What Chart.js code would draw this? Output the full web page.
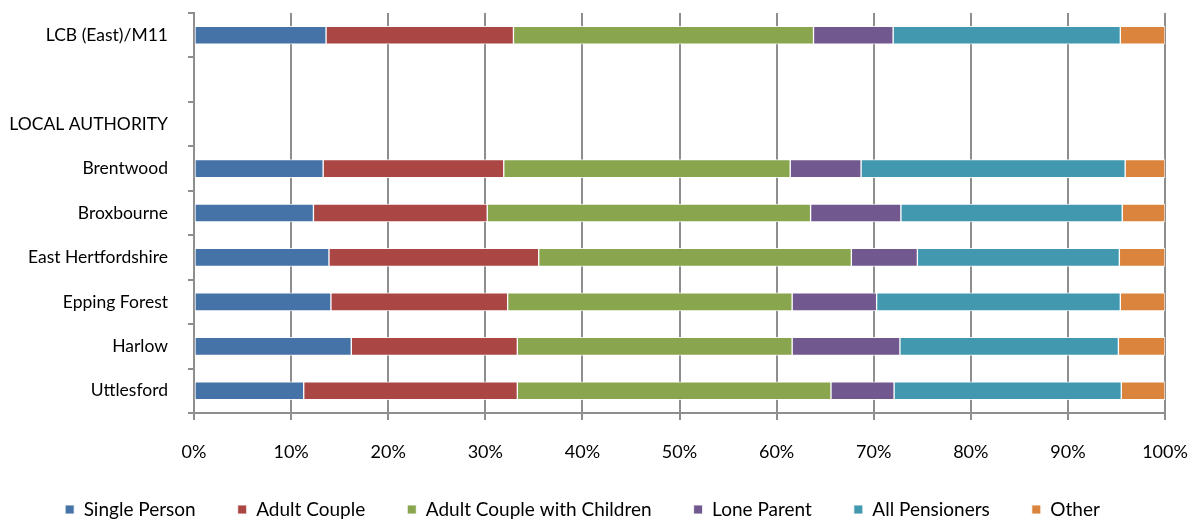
<!DOCTYPE html>
<html lang="en">
<head>
    <meta charset="UTF-8">
    <title>Household Composition</title>
    <style>
        body {
            margin: 0;
            background: #fff;
        }
        #wrap {
            width: 1197px;
            height: 520px;
        }
    </style>
</head>
<body>
    <div id="wrap">
        <canvas id="hhChart"></canvas>
    </div>

    <script src="https://cdn.jsdelivr.net/npm/chart.js"></script>
    <script>
        // categories, top to bottom (blank row + heading row have no data)
        const areas = ['LCB (East)/M11', '', 'LOCAL AUTHORITY', 'Brentwood', 'Broxbourne',
                       'East Hertfordshire', 'Epping Forest', 'Harlow', 'Uttlesford'];
        const singlePerson   = [13.6, null, null, 13.3, 12.3, 13.9, 14.1, 16.2, 11.3];
        const adultCouple    = [19.3, null, null, 18.6, 17.9, 21.6, 18.2, 17.1, 22.0];
        const coupleChildren = [30.9, null, null, 29.5, 33.3, 32.2, 29.3, 28.3, 32.3];
        const loneParent     = [8.2,  null, null, 7.3,  9.3,  6.8,  8.7,  11.1, 6.5];
        const allPensioners  = [23.4, null, null, 27.2, 22.8, 20.8, 25.1, 22.5, 23.4];
        const other          = [4.6,  null, null, 4.1,  4.4,  4.7,  4.6,  4.8,  4.5];
        const xTicks = [0, 10, 20, 30, 40, 50, 60, 70, 80, 90, 100];

        const gridGrey = '#8e8e8e';
        const fontFam = 'Lato, "Open Sans", sans-serif';

        function series(label, data, colour) {
            return {
                label: label,
                data: data,
                backgroundColor: colour,
                borderColor: 'rgba(255,255,255,0.85)',
                borderWidth: 1,
                borderSkipped: false,
                barThickness: 18
            };
        }

        const ctx = document.getElementById('hhChart').getContext('2d');
        const chart = new Chart(ctx, {
            type: 'bar',
            data: {
                labels: areas,
                datasets: [
                    series('Single Person', singlePerson, '#4572A7'),
                    series('Adult Couple', adultCouple, '#AA4643'),
                    series('Adult Couple with Children', coupleChildren, '#89A54E'),
                    series('Lone Parent', loneParent, '#71588F'),
                    series('All Pensioners', allPensioners, '#4198AF'),
                    series('Other', other, '#DB843D')
                ]
            },
            options: {
                indexAxis: 'y',
                responsive: true,
                maintainAspectRatio: false,
                animation: false,
                layout: {
                    padding: { left: 0, right: 32, top: 13, bottom: -9 }
                },
                scales: {
                    x: {
                        type: 'linear',
                        stacked: true,
                        min: 0,
                        max: 100,
                        afterBuildTicks: function(scale) {
                            scale.ticks = xTicks.map(v => ({ value: v }));
                        },
                        afterFit: function(scale) {
                            // keep the plot edges where the reference has them
                            scale.height = 45;
                            scale.paddingLeft = 0;
                            scale.paddingRight = 0;
                        },
                        ticks: {
                            color: '#000',
                            padding: 21,
                            font: { family: fontFam, size: 18 },
                            callback: v => v + '%'
                        },
                        grid: {
                            color: gridGrey,
                            lineWidth: 2,
                            tickLength: 7
                        },
                        border: { color: gridGrey, width: 2 }
                    },
                    y: {
                        stacked: true,
                        afterFit: function(scale) {
                            scale.width = 194;
                            scale.paddingTop = 0;
                            scale.paddingBottom = 0;
                        },
                        ticks: {
                            color: '#000',
                            padding: 20,
                            font: { family: fontFam, size: 17.5 }
                        },
                        grid: {
                            drawOnChartArea: false,
                            offset: true,
                            color: gridGrey,
                            lineWidth: 2,
                            tickLength: 6
                        },
                        border: { color: gridGrey, width: 2 }
                    }
                },
                plugins: {
                    legend: {
                        position: 'bottom',
                        labels: {
                            color: '#000',
                            boxWidth: 9,
                            boxHeight: 9,
                            padding: 42,
                            font: { family: fontFam, size: 19 }
                        }
                    },
                    tooltip: { enabled: false }
                }
            }
        });
    </script>
</body>
</html>
